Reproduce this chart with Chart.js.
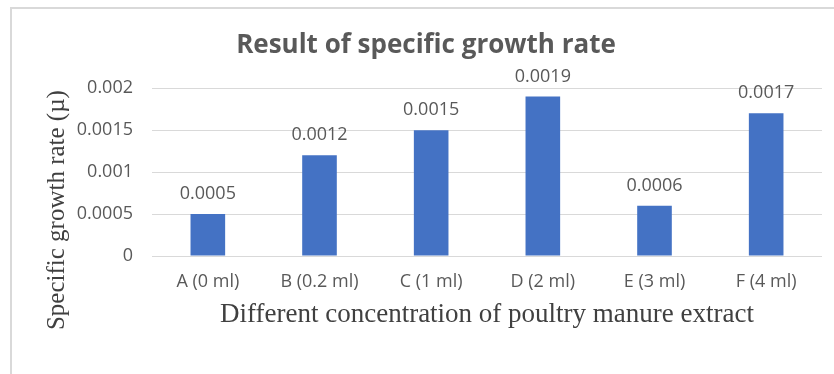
<!DOCTYPE html>
<html>
<head>
<meta charset="utf-8">
<script src="https://cdn.jsdelivr.net/npm/chart.js@4/dist/chart.umd.min.js"></script>
<style>
  html, body { margin: 0; padding: 0; background: #fff; }
  #wrap { position: absolute; left: 0; top: 0; width: 834px; height: 374px; }
</style>
</head>
<body>
<div id="wrap"><canvas id="growthChart"></canvas></div>
<script>
// datos del gráfico
const categorias = ['A (0 ml)', 'B (0.2 ml)', 'C (1 ml)', 'D (2 ml)', 'E (3 ml)', 'F (4 ml)'];
const tasaCrecimiento = [0.0005, 0.0012, 0.0015, 0.0019, 0.0006, 0.0017];
const ticksY = [0, 0.0005, 0.001, 0.0015, 0.002];

const gris = '#595959';
const tituloY = 'Specific growth rate (µ)';

// marco gris (borde superior e izquierdo)
const marco = {
    id: 'marco',
    beforeDraw(chart) {
        const ctx = chart.ctx;
        ctx.save();
        ctx.strokeStyle = '#d9d9d9';
        ctx.lineWidth = 2;
        ctx.beginPath();
        ctx.moveTo(11, chart.height);
        ctx.lineTo(11, 8);
        ctx.lineTo(chart.width, 8);
        ctx.stroke();
        ctx.restore();
    }
};

// etiquetas de valor encima de cada barra + título del eje Y
const etiquetasBarras = {
    id: 'etiquetasBarras',
    afterDatasetsDraw(chart) {
        const ctx = chart.ctx;
        const meta = chart.getDatasetMeta(0);
        ctx.save();
        ctx.font = '18px "Open Sans"';
        ctx.fillStyle = gris;
        ctx.textAlign = 'center';
        ctx.textBaseline = 'middle';
        meta.data.forEach(function(bar, i) {
            ctx.fillText(String(tasaCrecimiento[i]), bar.x, bar.y - 20);
        });
        // título del eje Y, algo más abajo que el centro del área
        const area = chart.chartArea;
        ctx.translate(57, (area.top + area.bottom) / 2 + 38);
        ctx.rotate(-Math.PI / 2);
        ctx.font = '25px "Liberation Serif"';
        ctx.fillStyle = '#404040';
        ctx.fillText(tituloY, 0, 0);
        ctx.restore();
    }
};

document.addEventListener('DOMContentLoaded', function() {
    const ctx = document.getElementById('growthChart').getContext('2d');
    new Chart(ctx, {
        type: 'bar',
        data: {
            labels: categorias,
            datasets: [{
                label: 'Specific growth rate',
                data: tasaCrecimiento,
                backgroundColor: '#4472C4',
                borderWidth: 0,
                barPercentage: 0.31,
                categoryPercentage: 1
            }]
        },
        options: {
            responsive: true,
            maintainAspectRatio: false,
            animation: false,
            layout: { padding: { top: 0, left: 30, right: 12, bottom: 41 } },
            plugins: {
                legend: { display: false },
                tooltip: { enabled: false },
                title: {
                    display: true,
                    text: 'Result of specific growth rate',
                    color: gris,
                    font: { family: 'Open Sans', size: 26, weight: 'bold' },
                    padding: { top: 30, bottom: 27 }
                }
            },
            scales: {
                x: {
                    afterFit: function(scale) { scale.height = 77; },
                    grid: { display: false, drawTicks: false },
                    border: { display: false },
                    ticks: { color: gris, font: { family: 'Open Sans', size: 18 }, padding: 15, maxRotation: 0 },
                    title: {
                        display: true,
                        text: 'Different concentration of poultry manure extract',
                        color: '#404040',
                        font: { family: 'Liberation Serif', size: 27 },
                        padding: { top: 5, bottom: 2 }
                    }
                },
                y: {
                    min: 0,
                    max: 0.002,
                    afterBuildTicks: function(scale) {
                        scale.ticks = ticksY.map(v => ({ value: v }));
                    },
                    afterFit: function(scale) { scale.width = 122; },
                    grid: { color: '#d9d9d9', lineWidth: 1, drawTicks: false },
                    border: { display: false },
                    ticks: {
                        color: gris,
                        font: { family: 'Open Sans', size: 18 },
                        padding: 19,
                        callback: v => String(v)
                    }
                }
            }
        },
        plugins: [marco, etiquetasBarras]
    });
});
</script>
</body>
</html>
